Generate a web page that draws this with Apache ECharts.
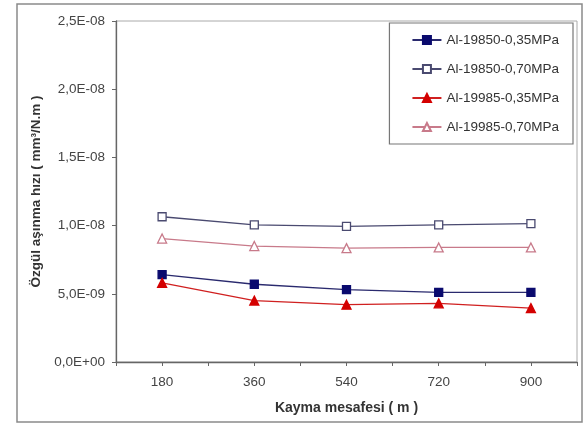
<!DOCTYPE html>
<html><head><meta charset="utf-8">
<script src="https://cdn.jsdelivr.net/npm/echarts@6/dist/echarts.min.js"></script>
<style>html,body{margin:0;padding:0;background:#fff}#c{width:584px;height:425px}</style>
</head><body><div id="c"></div>
<script>
var categories = ['180','360','540','720','900'];
var yTickLabels = ['0,0E+00','5,0E-09','1,0E-08','1,5E-08','2,0E-08','2,5E-08'];
var s1Name = 'Al-19850-0,35MPa';
var s2Name = 'Al-19850-0,70MPa';
var s3Name = 'Al-19985-0,35MPa';
var s4Name = 'Al-19985-0,70MPa';
var s1 = [6.4e-9, 5.7e-9, 5.3e-9, 5.1e-9, 5.1e-9];
var s2 = [1.065e-8, 1.005e-8, 0.995e-8, 1.005e-8, 1.015e-8];
var s3 = [5.8e-9, 4.5e-9, 4.2e-9, 4.3e-9, 3.95e-9];
var s4 = [9.05e-9, 8.5e-9, 8.35e-9, 8.4e-9, 8.4e-9];

var chart = echarts.init(document.getElementById('c'), null, {renderer:'canvas'});
var font = 'Liberation Sans, Arial, sans-serif';
var fs = 13.5;
function mk(name, data, sym, size, fill, stroke, line){
  return {name:name, type:'line', data:data, symbol:sym, symbolSize:size,
    xAxisIndex:0, showSymbol:true,
    itemStyle:{color:fill, borderColor:stroke, borderWidth:1.3},
    lineStyle:{color:line, width:1.3}, emphasis:{disabled:true}};
}
chart.setOption({
  animation:false,
  textStyle:{fontFamily:font},
  graphic:[{type:'rect', shape:{x:17,y:4,width:565,height:418},
    style:{fill:'none', stroke:'#8a8a8a', lineWidth:1.5}, silent:true}],
  grid:{left:116, top:21, right:7, bottom:63, show:true, borderColor:'#aaa', borderWidth:1},
  legend:{orient:'vertical', right:11, top:23, itemGap:15, itemWidth:29, itemHeight:10,
    padding:[10,14,10,22], borderColor:'#777', borderWidth:1.2, backgroundColor:'#fff',
    textStyle:{fontSize:fs, color:'#333', fontFamily:font},
    data:[s1Name,s2Name,s3Name,s4Name]},
  xAxis:[{type:'category', data:categories, boundaryGap:true,
      name:'Kayma mesafesi ( m )', nameLocation:'middle', nameGap:39,
      nameTextStyle:{fontWeight:'bold', fontSize:14, color:'#333'},
      axisLine:{lineStyle:{color:'#666', width:1.3}},
      axisTick:{show:true, length:4, lineStyle:{color:'#666'}},
      axisLabel:{fontSize:fs, color:'#444', margin:13}},
    {type:'category', data:categories, position:'bottom', boundaryGap:true,
      axisLine:{show:false}, axisLabel:{show:false},
      axisTick:{show:true, alignWithLabel:true, length:4, lineStyle:{color:'#666'}}}],
  yAxis:{type:'value', min:0, max:2.5e-8, interval:5e-9,
    name:'Özgül aşınma hızı ( mm³/N.m )', nameLocation:'middle', nameGap:73, nameRotate:90,
    nameTextStyle:{fontWeight:'bold', fontSize:13.5, color:'#333'},
    axisLine:{show:true, lineStyle:{color:'#666', width:1.3}},
    axisTick:{show:true, length:4, lineStyle:{color:'#666'}},
    splitLine:{show:false},
    axisLabel:{fontSize:fs, color:'#444', margin:11,
      formatter:function(v){return yTickLabels[Math.round(v/5e-9)];}}},
  series:[
    mk(s1Name, s1, 'rect', 8, '#0a0a6e', '#0a0a6e', '#2a2a6e'),
    mk(s2Name, s2, 'rect', 8, '#fff', '#4a4a70', '#4a4a70'),
    mk(s3Name, s3, 'triangle', 9, '#d40000', '#d40000', '#d02020'),
    mk(s4Name, s4, 'triangle', 9, '#fff', '#c87a8a', '#c87a8a')
  ]
});
</script></body></html>
